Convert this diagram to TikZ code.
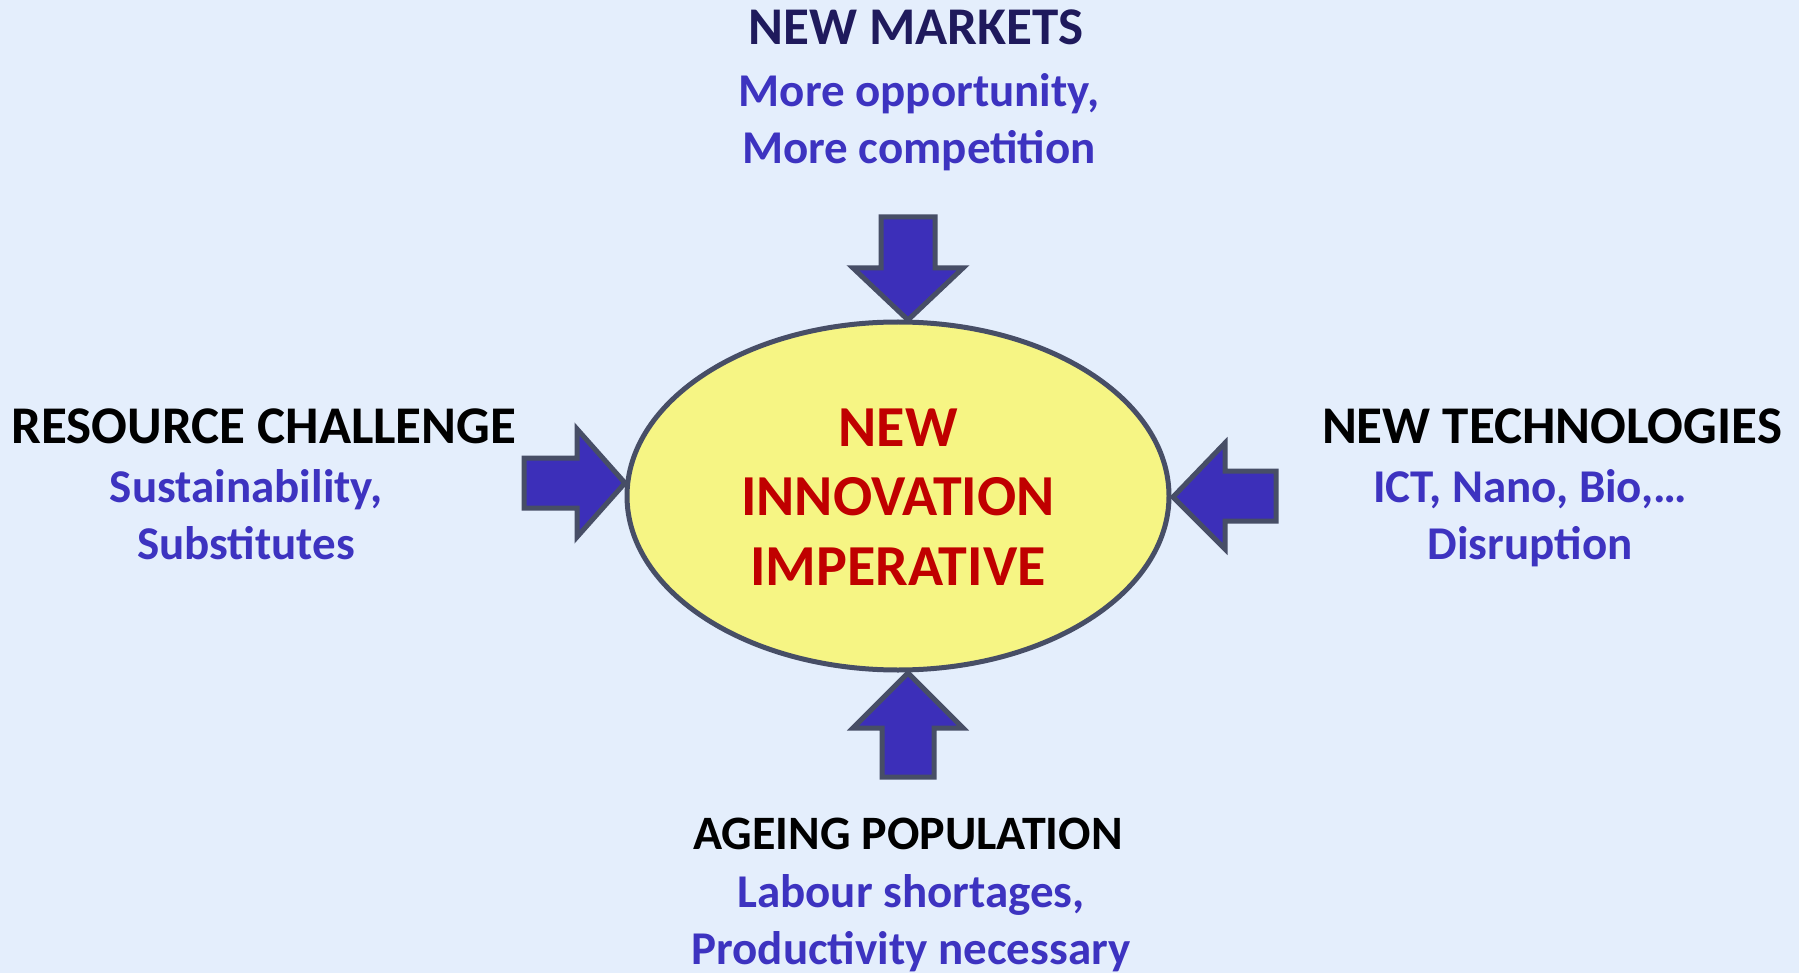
\documentclass[tikz,border=0pt]{standalone}
\usepackage{fontspec}
\setmainfont{Carlito}
\usetikzlibrary{calc}

\definecolor{bgblue}{HTML}{E4EEFC}
\definecolor{arrowfill}{HTML}{3C2FB9}
\definecolor{edgegray}{HTML}{474E66}
\definecolor{ovalfill}{HTML}{F6F584}
\definecolor{hotred}{HTML}{C00000}
\definecolor{subblue}{HTML}{3D33C0}
\definecolor{navy}{HTML}{1F1A5C}

\begin{document}
\begin{tikzpicture}[x=1pt,y=-1pt,
  block arrow/.style={fill=arrowfill,draw=edgegray,line width=5pt,miter limit=10},
  force title/.style={anchor=base,inner sep=0pt,font=\fontsize{53}{63}\selectfont\bfseries},
  force note/.style={anchor=base,inner sep=0pt,align=center,text=subblue,font=\fontsize{47}{57}\selectfont\bfseries}]
  \fill[bgblue] (0,0) rectangle (1799,973);
  \useasboundingbox (0,0) rectangle (1799,973);

  % the imperative in the middle
  \draw[fill=ovalfill,draw=edgegray,line width=5pt] (898,496) ellipse [x radius=271,y radius=174];
  \node[anchor=base,inner sep=0pt,align=center,text=hotred,font=\fontsize{58}{69.5}\selectfont\bfseries] (core) at (898,585) {NEW\\INNOVATION\\IMPERATIVE};

  % four pushing arrows
  \draw[block arrow] (881,217) -- (935,217) -- (935,268) -- (963,268) -- (908,320) -- (853,268) -- (881,268) -- cycle;
  \draw[block arrow] (882,777) -- (934,777) -- (934,728) -- (963,728) -- (908,673) -- (853,728) -- (882,728) -- cycle;
  \draw[block arrow] (524,458) -- (577,458) -- (577,429) -- (625,483) -- (577,537) -- (577,508) -- (524,508) -- cycle;
  \draw[block arrow] (1276,471) -- (1225,471) -- (1225,443) -- (1173,497) -- (1225,549) -- (1225,521) -- (1276,521) -- cycle;

  % the forces (notes sit on their last line)
  \node[force title,text=navy] (markets) at (916,45) {NEW MARKETS};
  \node[force note] (markets note) at (919,164) {More opportunity,\\More competition};

  \node[force title] (resource) at (264,443) {RESOURCE CHALLENGE};
  \node[force note] (resource note) at (246,559) {Sustainability,\\Substitutes};

  \node[force title] (tech) at (1552,443) {NEW TECHNOLOGIES};
  \node[force note] (tech note) at (1530,559) {ICT, Nano, Bio,…\\Disruption};

  \node[force title,font=\fontsize{48}{58}\selectfont\bfseries] (ageing) at (908,849) {AGEING POPULATION};
  \node[force note] (ageing note) at (911,964) {Labour shortages,\\Productivity necessary};
\end{tikzpicture}
\end{document}
